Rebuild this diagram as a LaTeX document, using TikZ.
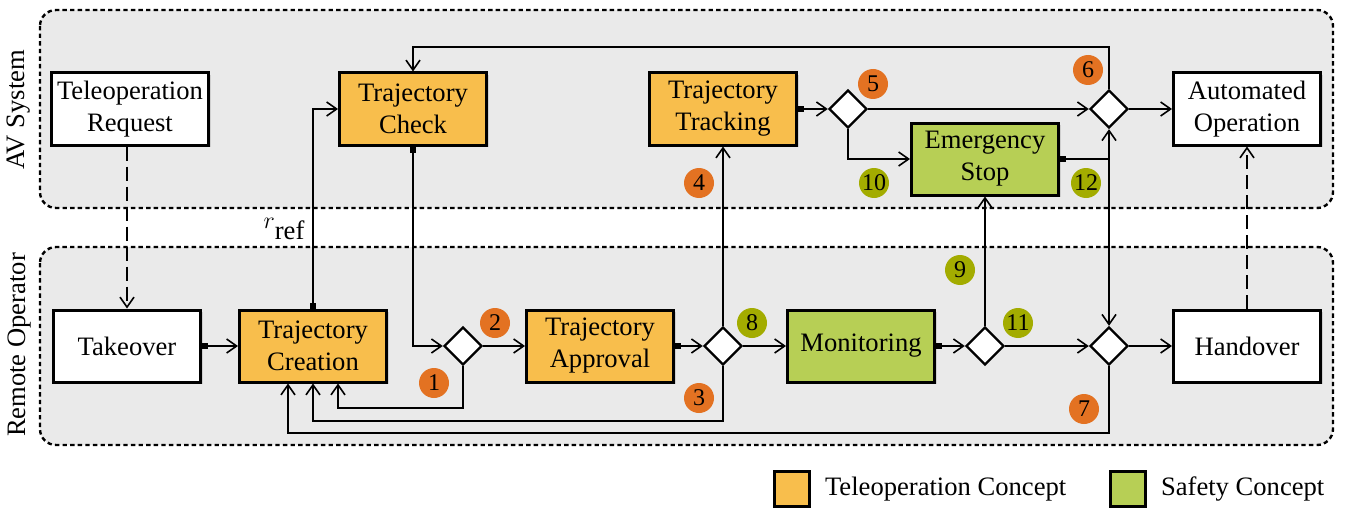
\documentclass[tikz,border=0pt]{standalone}
\usepackage{amsmath}
\usepackage{fontspec}
\setmainfont{Liberation Serif}
\usepackage{tikz}
\usetikzlibrary{positioning,calc,shapes.geometric,arrows.meta,shadows}
\definecolor{TeleOrange}{RGB}{248,190,76}
\definecolor{SafetyGreen}{RGB}{183,207,85}
\definecolor{StepOrange}{RGB}{227,114,34}
\definecolor{StepGreen}{RGB}{163,172,0}
\definecolor{ZoneGray}{RGB}{234,234,234}
\newcommand{\diagfont}{\fontsize{13.3}{16}\selectfont}
\newcommand{\stepfont}{\fontsize{12}{14}\selectfont}

\begin{document}
\begin{tikzpicture}[%
    x=0.5pt, y=-0.5pt,
    zone/.style={draw, fill=ZoneGray, line width=1.2pt, dash pattern=on 2.2pt off 1.6pt, rounded corners=8pt},
    block/.style={rectangle, draw, fill=white, line width=1.5pt, align=center, font=\diagfont, inner xsep=3pt, minimum width=73.5pt, minimum height=36pt, drop shadow={shadow xshift=1.2pt, shadow yshift=-1.2pt, opacity=0.25}},
    tblock/.style={block, fill=TeleOrange},
    sblock/.style={block, fill=SafetyGreen},
    gate/.style={diamond, draw, fill=white, line width=1.2pt, inner sep=0pt, minimum size=19pt},
    tnum/.style={circle, fill=StepOrange, inner sep=0pt, minimum size=15pt, font=\stepfont},
    snum/.style={tnum, fill=StepGreen},
    key/.style={rectangle, draw, line width=1.5pt, inner sep=0pt, minimum size=17.5pt},
    arrow/.style={-{Straight Barb[length=5pt,width=7pt]}, line width=0.8pt},
    sarrow/.style={{Square[length=3pt,width=3pt]}-{Straight Barb[length=5pt,width=7pt]}, line width=0.8pt},
    darrow/.style={arrow, dash pattern=on 7pt off 3pt}
  ]
  \useasboundingbox (0,0) rectangle (1353,508);

  % Zones
  \draw[zone] (40,10) rectangle (1333,208);
  \draw[zone] (40,247) rectangle (1333,445);
  \node[rotate=90, font=\diagfont] (avzone) at (19,110) {AV System};
  \node[rotate=90, font=\diagfont] (opzone) at (20,345) {Remote Operator};

  % AV system
  \node[block] (request) at (130,109) {Teleoperation\\Request};
  \node[tblock] (check) at (413,109) {Trajectory\\Check};
  \node[tblock] (tracking) at (723,109) {Trajectory\\Tracking};
  \node[sblock] (stop) at (985,159) {Emergency\\Stop};
  \node[block] (automated) at (1247,109) {Automated\\Operation};
  \node[gate] (g5) at (848,109) {};
  \node[gate] (g6) at (1109,109) {};

  % Remote operator
  \node[block] (takeover) at (127,346) {Takeover};
  \node[tblock] (creation) at (313,346) {Trajectory\\Creation};
  \node[tblock] (approval) at (600,346) {Trajectory\\Approval};
  \node[sblock] (monitoring) at (861,346) {Monitoring};
  \node[block] (handover) at (1247,346) {Handover};
  \node[gate] (g1) at (463,346) {};
  \node[gate] (g2) at (723,346) {};
  \node[gate] (g3) at (985,346) {};
  \node[gate] (g4) at (1109,346) {};

  % Helper coordinates for the loops
  \coordinate (top) at (0,47);
  \coordinate (back1) at (0,408);
  \coordinate (back2) at (0,421);
  \coordinate (back3) at (0,433);
  \coordinate (in1) at ([xshift=12.5pt]creation.south);
  \coordinate (in3) at ([xshift=-12.5pt]creation.south);
  \coordinate (split) at (g6.south |- stop.east);

  % Connections
  \draw[darrow] (takeover.north |- request.south) -- (takeover.north);
  \draw[sarrow] (takeover) -- (creation);
  \draw[sarrow] (creation.north) |- (check.west);
  \draw[sarrow] (check.south) |- (g1.west);
  \draw[arrow] (g1) -- (approval);
  \draw[arrow] (g1.south) |- (in1 |- back1) -- (in1);
  \draw[sarrow] (approval) -- (g2);
  \draw[arrow] (g2) -- (tracking);
  \draw[arrow] (g2) -- (monitoring);
  \draw[arrow] (g2.south) |- (creation.south |- back2) -- (creation.south);
  \draw[sarrow] (tracking) -- (g5);
  \draw[arrow] (g5) -- (g6);
  \draw[arrow] (g5.south) |- (stop.west);
  \draw[arrow] (g6.north) -- (g6.north |- top) -| (check.north);
  \draw[arrow] (g6) -- (automated);
  \draw[sarrow] (stop.east) -- (split) -- (g6.south);
  \draw[arrow] (split) -- (g4.north);
  \draw[sarrow] (monitoring) -- (g3);
  \draw[arrow] (g3) -- (stop);
  \draw[arrow] (g3) -- (g4);
  \draw[arrow] (g4) -- (handover);
  \draw[arrow] (g4.south) |- (in3 |- back3) -- (in3);
  \draw[darrow] (handover) -- (automated);

  \node[font=\fontsize{13}{15}\selectfont, inner sep=0pt] (rref) at (284,229) {$r$\raisebox{-5.5pt}{\diagfont ref}};

  % Step numbers
  \node[tnum] (n1) at (434,383) {1};
  \node[tnum] (n2) at (495,323) {2};
  \node[tnum] (n3) at (699,398) {3};
  \node[tnum] (n4) at (699,183) {4};
  \node[tnum] (n5) at (873,84) {5};
  \node[tnum] (n6) at (1088,70) {6};
  \node[tnum] (n7) at (1084,409) {7};
  \node[snum] (n8) at (752,323) {8};
  \node[snum] (n9) at (960,270) {9};
  \node[snum] (n10) at (874,183) {10};
  \node[snum] (n11) at (1018,323) {11};
  \node[snum] (n12) at (1086,183) {12};

  % Legend
  \node[key, fill=TeleOrange] (keytele) at (792,489) {};
  \node[font=\diagfont, right=3.5pt of keytele] (keytelelabel) {Teleoperation Concept};
  \node[key, fill=SafetyGreen] (keysafe) at (1128,489) {};
  \node[font=\diagfont, right=3.5pt of keysafe] (keysafelabel) {Safety Concept};
\end{tikzpicture}
\end{document}
